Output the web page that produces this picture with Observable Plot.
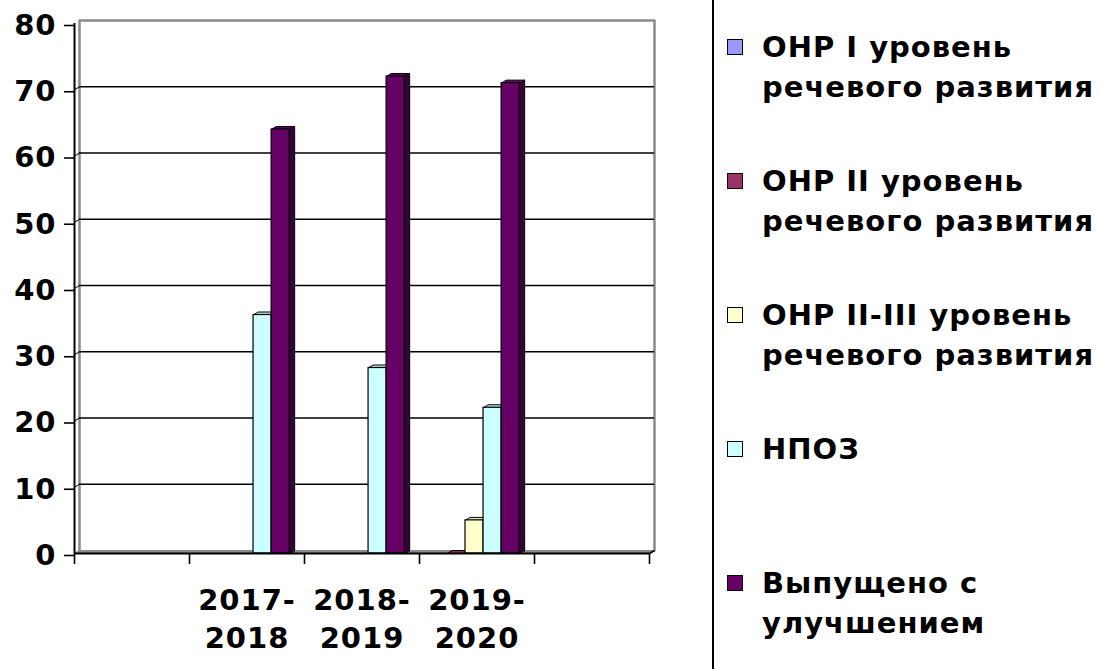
<!DOCTYPE html>
<html><head><meta charset="utf-8">
<script src="https://cdn.jsdelivr.net/npm/d3@7"></script>
<script src="https://cdn.jsdelivr.net/npm/@observablehq/plot@0.6"></script>
<style>
body{margin:0;background:#fff;font-family:"DejaVu Sans",Verdana,sans-serif;}
#wrap{position:relative;width:1098px;height:669px;overflow:hidden;background:#fff}
#chart{position:absolute;left:0;top:0}
#legend{position:absolute;left:712px;top:0;width:386px;height:669px;border-left:2px solid #000;box-sizing:border-box}
.item{position:absolute;left:0;width:384px}
.sw{position:absolute;left:13px;top:12px;width:16px;height:16px;border:1.5px solid #000;box-sizing:border-box}
.lab{position:absolute;left:48px;top:0;width:336px;font-size:29px;font-weight:bold;letter-spacing:1px;line-height:40px;color:#000}
</style></head><body>
<div id="wrap"><div id="chart"></div><div id="legend"></div></div>
<script>
// ---- data ----
const categories = ["", "2017-2018", "2018-2019", "2019-2020", ""];
const seriesNames = [
  "ОНР I уровень речевого развития",
  "ОНР II уровень речевого развития",
  "ОНР II-III уровень речевого развития",
  "НПОЗ",
  "Выпущено с улучшением"
];
const seriesColors = ["#9999FF", "#993366", "#FFFFCC", "#CCFFFF", "#660066"];
const onr1     = [null, null, null, null, null];
const onr2     = [null, null, null, 0,    null];
const onr23    = [null, null, null, 5,    null];
const npoz     = [null, 36,   28,   22,   null];
const improved = [null, 64,   72,   71,   null];
const yTicks = [0, 10, 20, 30, 40, 50, 60, 70, 80];

// ---- layout ----
const W = 712, H = 669, ML = 74, MR = 63, MT = 23, MB = 116;
const pxX = (W - ML - MR) / categories.length;   // px per category unit
const pxY = (H - MT - MB) / 80;                  // px per value unit
const DEPTH_X = 5, DEPTH_Y = 3;                  // 3D depth in px
const DX = DEPTH_X / pxX, DY = DEPTH_Y / pxY;     // depth in data units
const PAD = 0.086, BW = 0.157;                   // bar offset / width in category units

const allSeries = [onr1, onr2, onr23, npoz, improved];
const bars = [];
categories.forEach((c, i) => {
  allSeries.forEach((vals, j) => {
    const v = vals[i];
    if (v == null) return;
    const x1 = i + PAD + j * BW;
    bars.push({id: `${i}-${j}`, i, j, v, x1, x2: x1 + BW, color: seriesColors[j]});
  });
});
const sidePts = [], topPts = [];
bars.forEach(b => {
  const side = d3.color(b.color).darker(1.6).formatHex();
  const top = d3.color(b.color).darker(0.35).formatHex();
  [[b.x2, 0], [b.x2, b.v], [b.x2 + DX, b.v + DY], [b.x2 + DX, DY]].forEach(([x, y]) => sidePts.push({id: b.id, x, y, fill: side}));
  [[b.x1, b.v], [b.x2, b.v], [b.x2 + DX, b.v + DY], [b.x1 + DX, b.v + DY]].forEach(([x, y]) => topPts.push({id: b.id, x, y, fill: top}));
});
const n = categories.length;
const floorPts = [[0, 0], [n, 0], [n + DX, DY], [DX, DY]].map(([x, y]) => ({x, y}));
const wallPts = [[DX, DY], [DX, 80 + DY], [n + DX, 80 + DY], [n + DX, DY]].map(([x, y]) => ({x, y}));
const gridTicks = yTicks.filter(t => t > 0 && t < 80);
const labels = categories.map((c, i) => ({i, text: c.replace("-", "-\n")})).filter(d => d.text);

const chart = Plot.plot({
  width: W, height: H,
  marginLeft: ML, marginRight: MR, marginTop: MT, marginBottom: MB,
  x: {domain: [0, n]},
  y: {domain: [0, 80]},
  color: {type: "identity"},
  style: {fontFamily: "DejaVu Sans, Verdana, sans-serif", fontSize: "29px", fontWeight: "bold", letterSpacing: "1px", color: "#000", background: "#fff", overflow: "visible"},
  marks: [
    // back wall + gridlines
    Plot.line(wallPts, {x: "x", y: "y", stroke: "#8a8a8a", strokeWidth: 2.5}),
    Plot.ruleY(gridTicks, {y: d => d, x1: 0, x2: n, dx: DEPTH_X, dy: -DEPTH_Y, stroke: "#000", strokeWidth: 1.6}),
    Plot.link(gridTicks, {x1: 0, y1: d => d, x2: DX, y2: d => d + DY, stroke: "#000", strokeWidth: 1}),
    // floor
    Plot.line(floorPts, {x: "x", y: "y", fill: "#8a8a8a", stroke: "#8a8a8a", strokeWidth: 1, curve: "linear-closed"}),
    // bars (3D): sides, tops, fronts
    Plot.line(sidePts, {x: "x", y: "y", z: "id", fill: "fill", stroke: "#000", strokeWidth: 1, curve: "linear-closed"}),
    Plot.line(topPts, {x: "x", y: "y", z: "id", fill: "fill", stroke: "#000", strokeWidth: 1, curve: "linear-closed"}),
    Plot.rect(bars, {x1: "x1", x2: "x2", y1: 0, y2: "v", fill: "color", stroke: "#000", strokeWidth: 1.2}),
    // front floor edge and axes
    Plot.ruleY([0], {x1: 0, x2: n, stroke: "#000", strokeWidth: 2}),
    Plot.link([0], {x1: n, y1: 0, x2: n + DX, y2: DY, stroke: "#000", strokeWidth: 1.5}),
    Plot.ruleX([0], {y1: 0, y2: 80, stroke: "#000", strokeWidth: 2}),
    Plot.axisY({ticks: yTicks, tickSize: 10, tickPadding: 8, strokeWidth: 1.6, dy: 2}),
    Plot.axisX({ticks: d3.range(0, n + 1), tickSize: 11, tickFormat: () => "", strokeWidth: 1.6}),
    Plot.text(labels, {x: d => d.i + 0.5, y: 0, text: "text", dy: 30, lineAnchor: "top", lineHeight: 1.31, fontSize: 29, fontWeight: "bold"})
  ]
});
document.getElementById("chart").appendChild(chart);

// ---- legend ----
const legend = document.getElementById("legend");
seriesNames.forEach((name, k) => {
  const it = document.createElement("div");
  it.className = "item";
  it.style.top = (27 + k * 134) + "px";
  const sw = document.createElement("div");
  sw.className = "sw";
  sw.style.background = seriesColors[k];
  const lab = document.createElement("div");
  lab.className = "lab";
  lab.textContent = name;
  it.appendChild(sw); it.appendChild(lab);
  legend.appendChild(it);
});
</script>
</body></html>
